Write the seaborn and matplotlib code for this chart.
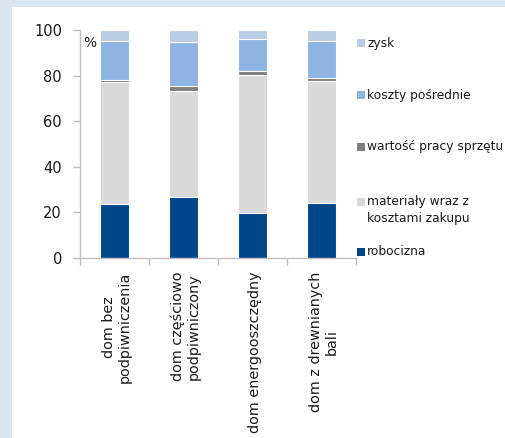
import matplotlib
matplotlib.use("Agg")
import matplotlib.pyplot as plt
from matplotlib.patches import Rectangle
import numpy as np
import pandas as pd
import seaborn as sns

# Cost structure of house construction, percent shares per house type
categories = ["dom bez\npodpiwniczenia", "dom częściowo\npodpiwniczony",
              "dom energooszczędny", "dom z drewnianych\nbali"]
robocizna = [23.4, 26.5, 19.5, 24.0]
materialy = [53.7, 46.7, 60.9, 53.7]
sprzet = [1.1, 2.3, 1.7, 1.4]
koszty_posrednie = [16.8, 19.1, 13.8, 15.9]
zysk = [5.0, 5.4, 4.1, 5.0]

series_names = ["robocizna", "materiały wraz z\nkosztami zakupu",
                "wartość pracy sprzętu", "koszty pośrednie", "zysk"]
series_values = [robocizna, materialy, sprzet, koszty_posrednie, zysk]
series_colors = ["#00468b", "#d9d9d9", "#808080", "#8eb4e3", "#b9cde5"]

sns.set_style("ticks")
plt.rcParams["font.family"] = ["DejaVu Sans"]

rows = []
for name, vals in zip(series_names, series_values):
    for cat, v in zip(categories, vals):
        rows.append({"kategoria": cat, "seria": name, "wartosc": v})
df = pd.DataFrame(rows)
df["seria"] = pd.Categorical(df["seria"], series_names, ordered=True)
df = df.sort_values(["kategoria", "seria"])
df["skumulowane"] = df.groupby("kategoria")["wartosc"].cumsum()

fig = plt.figure(figsize=(5.06, 4.38), dpi=100)
fig.patch.set_facecolor("#dbe5f1")
W, H = 506.0, 438.0
fig.patches.append(Rectangle((12 / W, 0), 1 - 12 / W, (H - 7) / H,
                             transform=fig.transFigure, facecolor="white",
                             edgecolor="none", zorder=-5))

ax = fig.add_axes([80 / W, (H - 257.7) / H, 276 / W, 227.7 / H])
ax.set_zorder(2)
ax.set_facecolor("white")

# stacked bars: draw running totals from the top segment downwards
for name, color in reversed(list(zip(series_names, series_colors))):
    sub = df[df["seria"] == name]
    sns.barplot(data=sub, x="kategoria", y="skumulowane", order=categories,
                color=color, saturation=1, width=0.415, edgecolor="white",
                linewidth=0.8, ax=ax, errorbar=None)

ax.set_xlim(-0.5, 3.5)
ax.set_ylim(0, 100)
ax.set_yticks(np.arange(0, 101, 20))
ax.set_xlabel("")
ax.set_ylabel("")

ax.set_xticks(np.arange(-0.5, 3.6, 1.0))
ax.set_xticklabels([])
ax.tick_params(axis="x", length=5, color="#bfbfbf", width=1)
ax.tick_params(axis="y", length=5, color="#bfbfbf", width=1, pad=8,
               labelsize=10.5, labelcolor="#1a1a1a")
for i, cat in enumerate(categories):
    ax.text(i + 0.03, -0.062, cat, transform=ax.get_xaxis_transform(), rotation=90,
            ha="center", va="top", multialignment="center", fontsize=10.4,
            color="#1a1a1a", linespacing=1.15)

for side in ["top", "right"]:
    ax.spines[side].set_visible(False)
for side in ["left", "bottom"]:
    ax.spines[side].set_color("#bfbfbf")
    ax.spines[side].set_linewidth(1)

ax.text(0.012, 0.975, "%", transform=ax.transAxes, ha="left", va="top",
        fontsize=10, color="#1a1a1a")

# legend entries on the right
legend_items = [("zysk", "#b9cde5", 43.3),
                ("koszty pośrednie", "#8eb4e3", 95.0),
                ("wartość pracy sprzętu", "#808080", 146.7),
                ("materiały wraz z\nkosztami zakupu", "#d9d9d9", 201.7),
                ("robocizna", "#00468b", 251.7)]
for label, color, ypix in legend_items:
    sq = 8.0
    fig.patches.append(Rectangle((357 / W, (H - ypix - sq / 2) / H), sq / W, sq / H,
                                 transform=fig.transFigure, facecolor=color,
                                 edgecolor="none", zorder=3))
    if "\n" in label:
        fig.text(367 / W, (H - ypix + 7) / H, label, ha="left", va="top",
                 fontsize=8.8, color="#1a1a1a", linespacing=1.45)
    else:
        fig.text(367 / W, (H - ypix) / H, label, ha="left", va="center",
                 fontsize=8.8, color="#1a1a1a")

fig.savefig("out.png", dpi=100, facecolor=fig.get_facecolor())
